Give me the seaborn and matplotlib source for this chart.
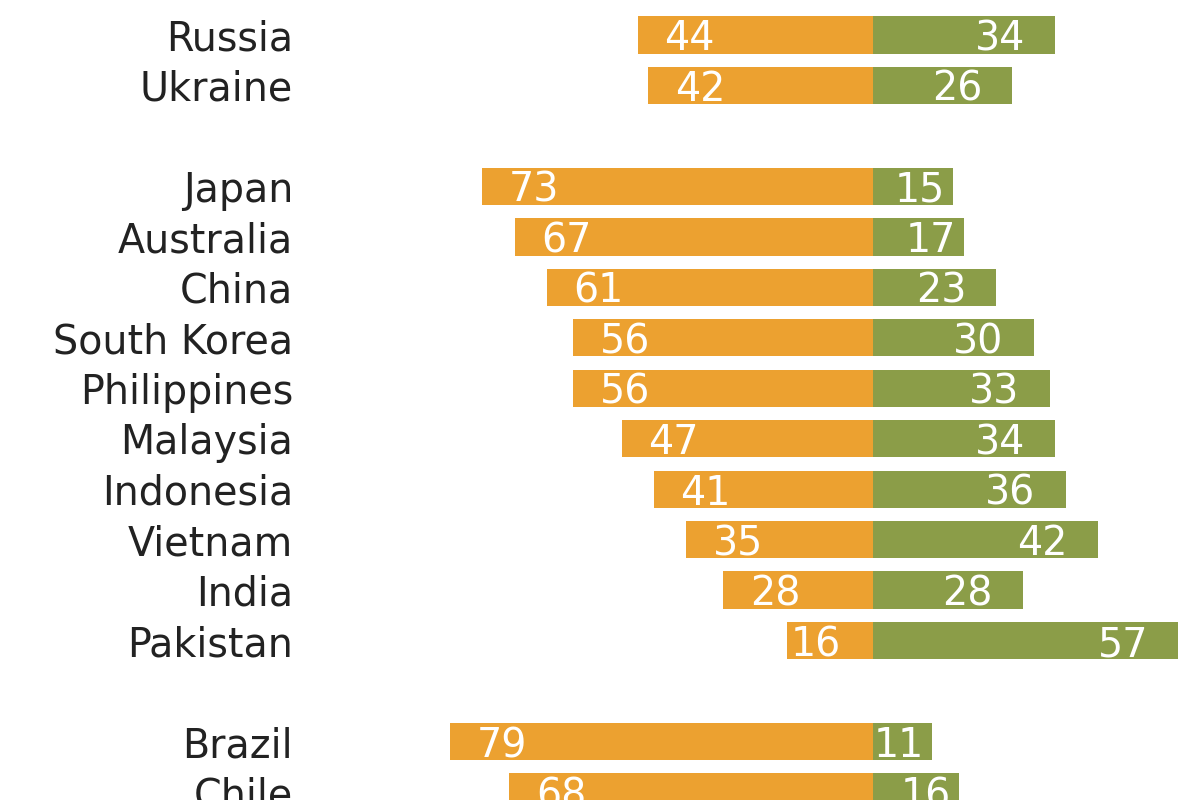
import matplotlib
matplotlib.use("Agg")
import matplotlib.pyplot as plt
import seaborn as sns
import pandas as pd

countries = ["Russia", "Ukraine", "Japan", "Australia", "China", "South Korea",
             "Philippines", "Malaysia", "Indonesia", "Vietnam", "India", "Pakistan",
             "Brazil", "Chile"]
left_values = [44, 42, 73, 67, 61, 56, 56, 47, 41, 35, 28, 16, 79, 68]
right_values = [34, 26, 15, 17, 23, 30, 33, 34, 36, 42, 28, 57, 11, 16]
row_order = ["Russia", "Ukraine", " ", "Japan", "Australia", "China", "South Korea",
             "Philippines", "Malaysia", "Indonesia", "Vietnam", "India", "Pakistan",
             "  ", "Brazil", "Chile"]

ORANGE = "#ECA130"
GREEN = "#8B9D48"

sns.set_theme(style="white")
plt.rcParams["font.family"] = ["DejaVu Sans"]

df = pd.DataFrame({"country": countries, "left": [-v for v in left_values],
                   "right": right_values})

fig = plt.figure(figsize=(12, 8), dpi=100)
ax = fig.add_axes([0.25, 0.0, 0.75, 1.0])

sns.barplot(data=df, y="country", x="left", order=row_order, color=ORANGE,
            saturation=1, width=0.74, ax=ax, orient="h", linewidth=0)
sns.barplot(data=df, y="country", x="right", order=row_order, color=GREEN,
            saturation=1, width=0.74, ax=ax, orient="h", linewidth=0)

pos = {c: i for i, c in enumerate(row_order)}
fs = 28.5
for c, lv, rv in zip(countries, left_values, right_values):
    y = pos[c]
    lpad = 5.0 if lv >= 20 else 0.6
    ax.text(-lv + lpad, y, str(lv), ha="left", va="center_baseline",
            color="white", fontsize=fs)
    rpad = 5.6 if rv >= 20 else 1.5
    ax.text(rv - rpad, y, str(rv), ha="right", va="center_baseline",
            color="white", fontsize=fs)

px = 5.35
ax.set_xlim((300 - 873) / px, (1200 - 873) / px)
ax.set_ylim(15 + 8 / 50.47, -35 / 50.47)
ax.set_xlabel("")
ax.set_ylabel("")
ax.set_xticks([])
ax.tick_params(axis="y", length=0, pad=5, labelsize=fs, labelcolor="#222222")
for s in ax.spines.values():
    s.set_visible(False)

fig.savefig("out.png", dpi=100)
